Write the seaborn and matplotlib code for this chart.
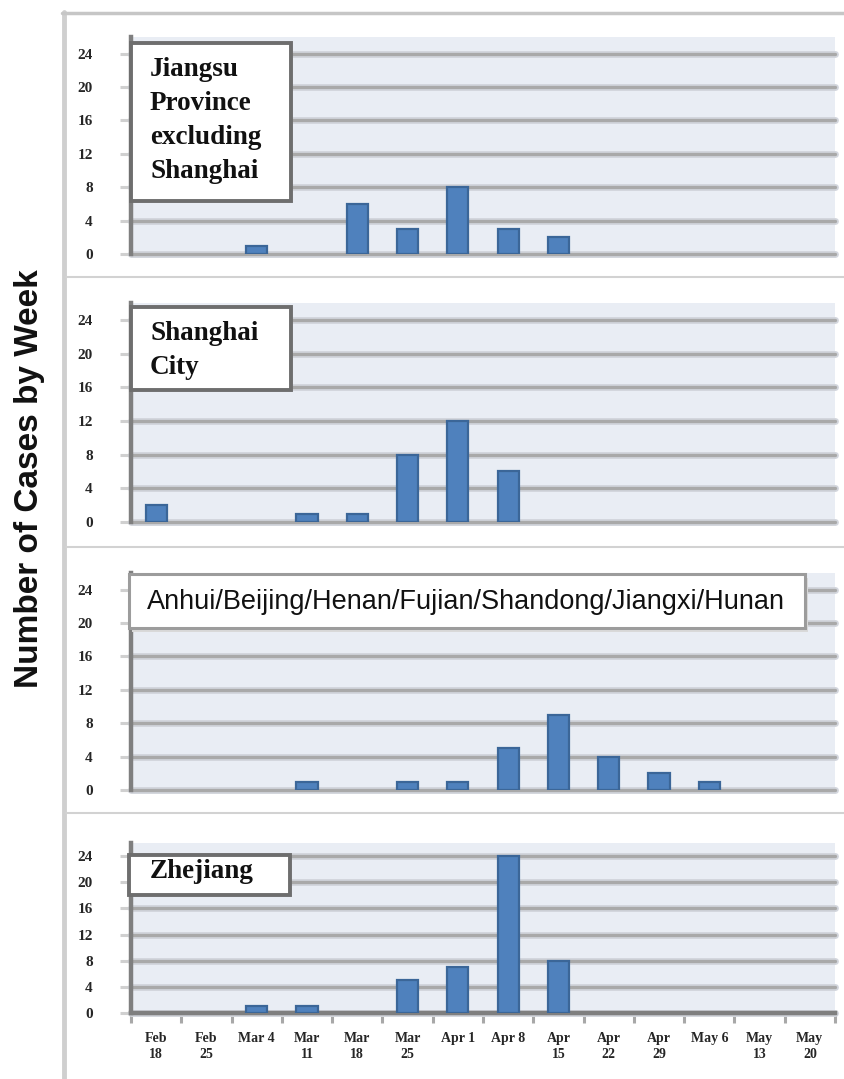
import matplotlib
matplotlib.use("Agg")
import matplotlib.pyplot as plt
import pandas as pd
import seaborn as sns
from matplotlib.patches import Rectangle
from matplotlib.lines import Line2D

# Weekly case counts by reporting area
weeks = ["Feb 18", "Feb 25", "Mar 4", "Mar 11", "Mar 18", "Mar 25", "Apr 1",
         "Apr 8", "Apr 15", "Apr 22", "Apr 29", "May 6", "May 13", "May 20"]
week_labels = ["Feb\n18", "Feb\n25", "Mar 4", "Mar\n11", "Mar\n18", "Mar\n25", "Apr 1",
               "Apr 8", "Apr\n15", "Apr\n22", "Apr\n29", "May 6", "May\n13", "May\n20"]

jiangsu = [0, 0, 1, 0, 6, 3, 8, 3, 2, 0, 0, 0, 0, 0]
shanghai = [2, 0, 0, 1, 1, 8, 12, 6, 0, 0, 0, 0, 0, 0]
other_provinces = [0, 0, 0, 1, 0, 1, 1, 5, 9, 4, 2, 1, 0, 0]
zhejiang = [0, 0, 1, 1, 0, 5, 7, 24, 8, 0, 0, 0, 0, 0]

panel_names = ["Jiangsu\nProvince\nexcluding\nShanghai",
               "Shanghai\nCity",
               "Anhui/Beijing/Henan/Fujian/Shandong/Jiangxi/Hunan",
               "Zhejiang"]
y_ticks = [0, 4, 8, 12, 16, 20, 24]
y_title = "Number of Cases by Week"

series = [jiangsu, shanghai, other_provinces, zhejiang]

W, H = 844, 1079
sns.set_theme(style="white")
plt.rcParams["font.family"] = ["Liberation Serif", "DejaVu Serif"]

fig = plt.figure(figsize=(W / 100, H / 100), dpi=100)
fig.patch.set_facecolor("white")

BAR = "#4F81BD"
BAR_EDGE = "#3B6698"
BG = "#E9EDF4"
GRID = "#A9A9A9"
SPINE = "#7F7F7F"

# panel geometry in pixels: (top, bottom)
panels_px = [(37, 254), (303, 522), (573, 790), (843, 1013)]
left_px, right_px = 131, 835


def fx(x):
    return x / W


def fy(y):
    return 1 - y / H


# label boxes in pixels: (x0, y0, x1, y1)
boxes_px = [(131, 43, 291, 201), (131, 307, 291, 390), (129, 574, 805, 628), (129, 855, 290, 895)]
line_centers = [[69, 103, 137, 171], [334, 367], [602], [871]]

axes = []
for i, ((top, bot), vals) in enumerate(zip(panels_px, series)):
    ax = fig.add_axes([fx(left_px), fy(bot), fx(right_px - left_px), (bot - top) / H])
    ax.set_facecolor(BG)
    axes.append(ax)

    df = pd.DataFrame({"week": weeks, "cases": vals})
    df = df[df["cases"] > 0]
    sns.barplot(data=df, x="week", y="cases", order=weeks, color=BAR, saturation=1,
                width=0.42, edgecolor=BAR_EDGE, linewidth=1.6, ax=ax, zorder=3)

    ax.set_ylim(0, 26)
    ax.set_xlim(-0.5, len(weeks) - 0.5)
    ax.set_xlabel("")
    ax.set_ylabel("")

    # horizontal gridlines with a soft halo
    for v in y_ticks:
        ax.axhline(v, color="#D3D6DD", lw=5.0, zorder=1, clip_on=False)
        ax.axhline(v, color=GRID, lw=2.4, zorder=1.5, clip_on=False)

    ax.set_yticks(y_ticks)
    ax.set_yticklabels([str(v) for v in y_ticks], fontsize=11, fontweight="bold", color="#262626")
    ax.tick_params(axis="y", length=8, width=2.2, color="#D0D0D0", pad=19.5, left=True)

    for s in ["top", "right", "bottom"]:
        ax.spines[s].set_visible(False)
    ax.spines["left"].set_color(SPINE)
    ax.spines["left"].set_linewidth(3.2)
    ax.spines["left"].set_zorder(4)

    if i == len(series) - 1:
        ax.spines["bottom"].set_visible(True)
        ax.spines["bottom"].set_color(SPINE)
        ax.spines["bottom"].set_linewidth(3.2)
        ax.set_xticks(range(len(weeks)))
        ax.set_xticklabels(week_labels, fontsize=10, fontweight="bold", color="#262626",
                           linespacing=1.3)
        ax.set_xticks([k - 0.5 for k in range(len(weeks) + 1)], minor=True)
        ax.tick_params(axis="x", which="major", length=0, pad=14, bottom=True)
        ax.tick_params(axis="x", which="minor", length=7, width=2.2, color="#A8A8A8", bottom=True)
    else:
        ax.set_xticks([])

    # area label box
    x0, y0, x1, y1 = boxes_px[i]
    if i == 2:
        fig.add_artist(Rectangle((fx(x0 + 3), fy(y1 + 4)), fx(x1 - x0), (y1 - y0) / H,
                                 transform=fig.transFigure, facecolor="#D9D9D9",
                                 edgecolor="none", zorder=9))
        fig.add_artist(Rectangle((fx(x0), fy(y1)), fx(x1 - x0), (y1 - y0) / H,
                                 transform=fig.transFigure, facecolor="white",
                                 edgecolor="#9C9C9C", lw=2.2, zorder=10))
        fig.text(fx(147), fy(line_centers[i][0]), panel_names[i], ha="left", va="center",
                 fontsize=19.5, family=["Liberation Sans", "DejaVu Sans"], color="#111111",
                 zorder=11)
    else:
        fig.add_artist(Rectangle((fx(x0), fy(y1)), fx(x1 - x0), (y1 - y0) / H,
                                 transform=fig.transFigure, facecolor="white",
                                 edgecolor="#6E6E6E", lw=2.8, zorder=10))
        for line, yc in zip(panel_names[i].split("\n"), line_centers[i]):
            fig.text(fx(150), fy(yc), line, ha="left", va="center", fontsize=19.5,
                     fontweight="bold", color="#111111", zorder=11)

# outer frame lines and panel separators
frame = "#CFCFCF"
fig.add_artist(Line2D([fx(64), fx(64)], [fy(12), 0], transform=fig.transFigure,
                      color=frame, lw=3.5))
fig.add_artist(Line2D([fx(62), 1], [fy(13), fy(13)], transform=fig.transFigure,
                      color="#C6C6C6", lw=2.5))
for ys in [277, 547, 813]:
    fig.add_artist(Line2D([fx(66), 1], [fy(ys), fy(ys)], transform=fig.transFigure,
                          color="#D2D2D2", lw=1.5))

fig.text(fx(30), fy(479), y_title, rotation=90, ha="center", va="center",
         fontsize=24, fontweight="bold", family=["Liberation Sans", "DejaVu Sans"],
         color="#111111")

fig.savefig("out.png", dpi=100, facecolor="white")
